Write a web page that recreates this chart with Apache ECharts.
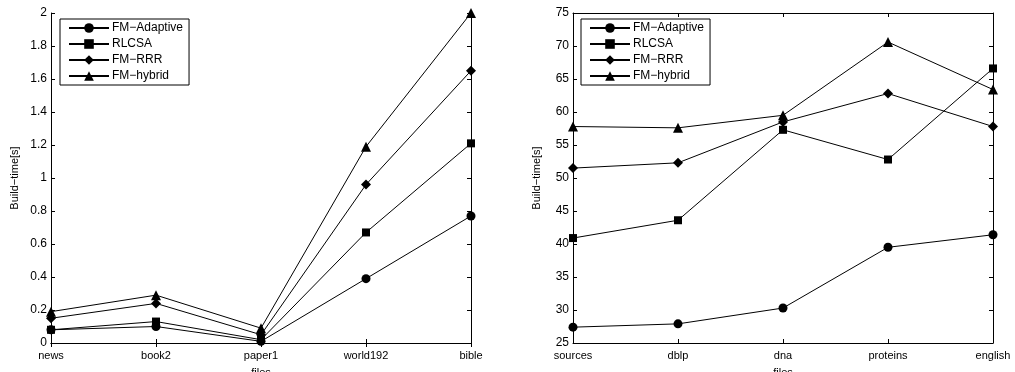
<!DOCTYPE html>
<html>
<head>
<meta charset="utf-8">
<script src="https://cdn.jsdelivr.net/npm/echarts@6/dist/echarts.min.js"></script>
<style>
  html, body { margin: 0; padding: 0; background: #fff; }
  #chart { width: 1015px; height: 372px; }
</style>
</head>
<body>
<div id="chart"></div>
<script>
// left panel
const filesLeft = ['news', 'book2', 'paper1', 'world192', 'bible'];
const adaptiveLeft = [0.08, 0.10, 0.01, 0.39, 0.77];
const rlcsaLeft = [0.08, 0.13, 0.02, 0.67, 1.21];
const rrrLeft = [0.15, 0.24, 0.05, 0.96, 1.65];
const hybridLeft = [0.19, 0.29, 0.09, 1.19, 2.0];

// right panel
const filesRight = ['sources', 'dblp', 'dna', 'proteins', 'english'];
const adaptiveRight = [27.4, 27.9, 30.3, 39.5, 41.4];
const rlcsaRight = [40.9, 43.6, 57.3, 52.8, 66.6];
const rrrRight = [51.5, 52.3, 58.5, 62.8, 57.8];
const hybridRight = [57.8, 57.6, 59.5, 70.6, 63.4];

const seriesNames = ['FM−Adaptive', 'RLCSA', 'FM−RRR', 'FM−hybrid'];
const symbols = ['circle', 'rect', 'diamond', 'triangle'];
const symbolSizes = [9, 8, 10, 10];

const font = 'Liberation Sans, Arial, sans-serif';

const chart = echarts.init(document.getElementById('chart'));

const mainX = (idx, data) => ({
    type: 'category', gridIndex: idx, data: data, boundaryGap: false,
    name: 'files', nameLocation: 'middle', nameGap: 24,
    nameTextStyle: { color: '#000', fontSize: 11, fontFamily: font },
    axisLine: { lineStyle: { color: '#000', width: 1 } },
    axisTick: { inside: true, length: 4, alignWithLabel: true, lineStyle: { color: '#000' } },
    axisLabel: { color: '#000', fontSize: 11, fontFamily: font, margin: 7 },
    splitLine: { show: false }
});
const mirrorX = (idx, data) => ({
    type: 'category', gridIndex: idx, data: data, boundaryGap: false, position: 'top',
    axisLine: { lineStyle: { color: '#000', width: 1 } },
    axisTick: { inside: true, length: 4, lineStyle: { color: '#000' } },
    axisLabel: { show: false }, splitLine: { show: false }
});
const mainY = (idx, min, max, step) => ({
    type: 'value', gridIndex: idx, min: min, max: max, interval: step,
    name: 'Build−time[s]', nameLocation: 'middle', nameGap: 31,
    nameTextStyle: { color: '#000', fontSize: 11, fontFamily: font },
    axisLine: { show: true, lineStyle: { color: '#000', width: 1 } },
    axisTick: { show: true, inside: true, length: 4, lineStyle: { color: '#000' } },
    axisLabel: { color: '#000', fontSize: 12, fontFamily: font, margin: 4 },
    splitLine: { show: false }
});
const mirrorY = (idx, min, max, step) => ({
    type: 'value', gridIndex: idx, min: min, max: max, interval: step, position: 'right',
    axisLine: { show: true, lineStyle: { color: '#000', width: 1 } },
    axisTick: { show: true, inside: true, length: 4, lineStyle: { color: '#000' } },
    axisLabel: { show: false }, splitLine: { show: false }
});

const makeSeries = (idx, arrays) => arrays.map((vals, i) => ({
    name: seriesNames[i], type: 'line', xAxisIndex: idx * 2, yAxisIndex: idx * 2,
    data: vals, symbol: symbols[i], symbolSize: symbolSizes[i],
    lineStyle: { color: '#000', width: 1 }, itemStyle: { color: '#000' },
    animation: false
}));

const legendBox = (idx, left) => ({
    show: true, orient: 'vertical', left: left, top: 19,
    data: seriesNames.map(n => ({ name: n })),
    itemWidth: 40, itemHeight: 12, itemGap: 4,
    padding: [3, 6, 3, 8],
    borderColor: '#000', borderWidth: 1, borderRadius: 0, backgroundColor: '#fff',
    textStyle: { color: '#000', fontSize: 12, fontFamily: font, padding: [0, 0, 0, -2] },
    selectedMode: false
});

chart.setOption({
    backgroundColor: '#fff',
    animation: false,
    grid: [
        { left: 51, right: 544, top: 13, bottom: 29, outerBoundsMode: 'none', containLabel: false },
        { left: 573, right: 22, top: 13, bottom: 29, outerBoundsMode: 'none', containLabel: false }
    ],
    legend: [legendBox(0, 60), legendBox(1, 581)],
    xAxis: [mainX(0, filesLeft), mirrorX(0, filesLeft), mainX(1, filesRight), mirrorX(1, filesRight)],
    yAxis: [mainY(0, 0, 2, 0.2), mirrorY(0, 0, 2, 0.2), mainY(1, 25, 75, 5), mirrorY(1, 25, 75, 5)],
    series: makeSeries(0, [adaptiveLeft, rlcsaLeft, rrrLeft, hybridLeft])
        .concat(makeSeries(1, [adaptiveRight, rlcsaRight, rrrRight, hybridRight]))
});
</script>
</body>
</html>
